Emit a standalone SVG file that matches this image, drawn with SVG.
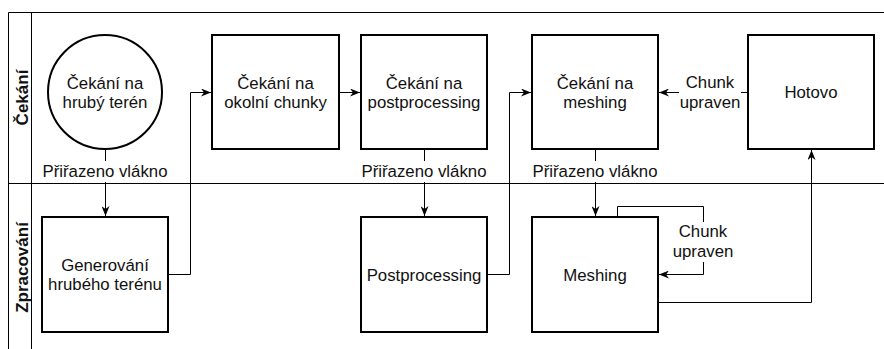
<svg xmlns="http://www.w3.org/2000/svg" width="884" height="349" viewBox="0 0 884 349">
<style>
  text { font-family: "Liberation Sans", Arial, sans-serif; font-size: 16.8px; fill: #111; text-anchor: middle; }
  .lane { font-weight: bold; font-size: 17px; }
  .node { fill: #fff; stroke: #000; stroke-width: 2; }
  .pool { fill: none; stroke: #000; stroke-width: 1; }
  .edge { fill: none; stroke: #000; stroke-width: 1; }
  .lblbg { fill: #fff; stroke: none; }
</style>
<defs>
  <marker id="arr" viewBox="0 0 10 8" refX="10" refY="4" markerWidth="10" markerHeight="8" markerUnits="userSpaceOnUse" orient="auto">
    <path d="M0,0 L10,4 L0,8 L3,4 Z" fill="#000"/>
  </marker>
</defs>
<rect width="884" height="349" fill="#fff"/>
<g id="pool">
  <path class="pool" d="M8.5,352 V12.5 H884 M31.5,12.5 V352 M8.5,183.5 H884"/>
  <text class="lane" transform="translate(28,97.5) rotate(-90)">Čekání</text>
  <text class="lane" transform="translate(28,267.5) rotate(-90)">Zpracování</text>
</g>
<g id="connectors">
  <path class="edge" d="M105.5,149 V216" marker-end="url(#arr)"/>
  <path class="edge" d="M168,274.5 H190.5 V92.5 H211" marker-end="url(#arr)"/>
  <path class="edge" d="M339,92.5 H360" marker-end="url(#arr)"/>
  <path class="edge" d="M424.5,149 V216" marker-end="url(#arr)"/>
  <path class="edge" d="M487,274.5 H509.5 V92.5 H531" marker-end="url(#arr)"/>
  <path class="edge" d="M595.5,149 V216" marker-end="url(#arr)"/>
  <path class="edge" d="M748,92.5 H659" marker-end="url(#arr)"/>
  <path class="edge" d="M617.5,217 V206.5 H703.5 V274.5 H659" marker-end="url(#arr)"/>
  <path class="edge" d="M658,302.5 H811.5 V150" marker-end="url(#arr)"/>
  <rect class="lblbg" x="41" y="161" width="129" height="21"/>
  <text x="105" y="177">Přiřazeno vlákno</text>
  <rect class="lblbg" x="360" y="161" width="129" height="21"/>
  <text x="424" y="177">Přiřazeno vlákno</text>
  <rect class="lblbg" x="531" y="161" width="129" height="21"/>
  <text x="595" y="177">Přiřazeno vlákno</text>
  <rect class="lblbg" x="679" y="73" width="62" height="40"/>
  <text x="710" y="88">Chunk</text>
  <text x="710" y="108">upraven</text>
  <rect class="lblbg" x="672" y="222" width="62" height="40"/>
  <text x="703" y="237">Chunk</text>
  <text x="703" y="257">upraven</text>
</g>
<g id="n-cekani-hruby">
  <circle class="node" cx="105" cy="92" r="57"/>
  <text x="105" y="89">Čekání na</text>
  <text x="105" y="108">hrubý terén</text>
</g>
<g id="n-cekani-okolni">
  <rect class="node" x="212" y="35" width="127" height="114"/>
  <text x="275.5" y="89">Čekání na</text>
  <text x="275.5" y="108">okolní chunky</text>
</g>
<g id="n-cekani-post">
  <rect class="node" x="361" y="35" width="126" height="114"/>
  <text x="424" y="89">Čekání na</text>
  <text x="424" y="108">postprocessing</text>
</g>
<g id="n-cekani-mesh">
  <rect class="node" x="532" y="35" width="126" height="114"/>
  <text x="595" y="89">Čekání na</text>
  <text x="595" y="108">meshing</text>
</g>
<g id="n-hotovo">
  <rect class="node" x="748" y="35" width="126" height="114"/>
  <text x="811" y="98">Hotovo</text>
</g>
<g id="n-generovani">
  <rect class="node" x="42" y="217" width="126" height="115"/>
  <text x="105" y="271">Generování</text>
  <text x="105" y="290">hrubého terénu</text>
</g>
<g id="n-postprocessing">
  <rect class="node" x="361" y="217" width="126" height="115"/>
  <text x="424" y="281">Postprocessing</text>
</g>
<g id="n-meshing">
  <rect class="node" x="532" y="217" width="126" height="115"/>
  <text x="595" y="281">Meshing</text>
</g>
</svg>
